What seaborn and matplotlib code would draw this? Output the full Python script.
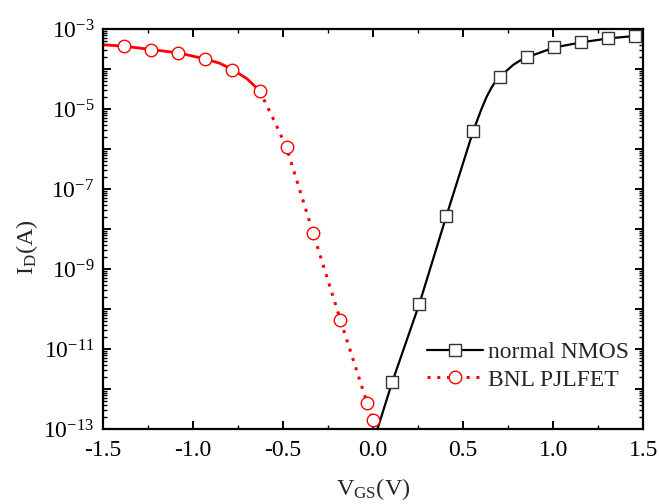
import numpy as np
import pandas as pd
import matplotlib
matplotlib.use("Agg")
import matplotlib.pyplot as plt
import seaborn as sns
from matplotlib.lines import Line2D
from matplotlib.ticker import LogLocator, FuncFormatter, MultipleLocator, NullFormatter

# ---- data ----
nmos_marker_v = [0.107, 0.257, 0.407, 0.557, 0.707, 0.857, 1.007, 1.157, 1.307, 1.457]
nmos_marker_i = [1.5e-12, 1.33e-10, 2.1e-8, 2.9e-6, 6.4e-5, 2.0e-4, 3.5e-4, 4.7e-4, 5.9e-4, 6.8e-4]
nmos_line_v = [0.025, 0.107, 0.257, 0.407, 0.557, 0.60, 0.63, 0.66, 0.68, 0.707, 0.74, 0.78, 0.82, 0.857,
               1.007, 1.157, 1.307, 1.457, 1.5]
nmos_line_i = [1.0e-13, 1.5e-12, 1.33e-10, 2.1e-8, 2.9e-6, 9.5e-6, 2.0e-5, 3.6e-5, 4.9e-5, 6.4e-5, 9.0e-5,
               1.3e-4, 1.68e-4, 2.0e-4, 3.5e-4, 4.7e-4, 5.9e-4, 6.8e-4, 7.1e-4]

jfet_marker_v = [-1.38, -1.23, -1.08, -0.93, -0.78, -0.63, -0.48, -0.333, -0.181, -0.033, 0.0]
jfet_marker_i = [3.76e-4, 3.1e-4, 2.56e-4, 1.8e-4, 9.8e-5, 2.9e-5, 1.1e-6, 8.1e-9, 5.3e-11, 4.5e-13, 1.7e-13]
jfet_line_v = [-1.5, -1.38, -1.23, -1.08, -0.93, -0.85, -0.78, -0.70, -0.63, -0.55, -0.48, -0.333, -0.181, -0.033, 0.0]
jfet_line_i = [4.1e-4, 3.76e-4, 3.1e-4, 2.56e-4, 1.8e-4, 1.4e-4, 9.8e-5, 5.8e-5, 2.9e-5, 5.3e-6, 1.1e-6, 8.1e-9,
               5.3e-11, 4.5e-13, 1.7e-13]
jfet_solid_until = -0.63

labels = ["normal NMOS", "BNL PJLFET"]
x_ticks = [-1.5, -1.0, -0.5, 0.0, 0.5, 1.0, 1.5]

sns.set_style("ticks")
plt.rcParams["font.family"] = ["Liberation Serif", "DejaVu Serif"]
plt.rcParams["mathtext.fontset"] = "custom"
plt.rcParams["mathtext.rm"] = "Liberation Serif"
plt.rcParams["mathtext.it"] = "Liberation Serif:italic"

fig = plt.figure(figsize=(6.59, 5.04), dpi=100)
ax = fig.add_axes([0.156, 0.149, 0.820, 0.793])

nm_line = pd.DataFrame({"V": nmos_line_v, "I": nmos_line_i})
nm_mark = pd.DataFrame({"V": nmos_marker_v, "I": nmos_marker_i})
jf_line = pd.DataFrame({"V": jfet_line_v, "I": jfet_line_i})
jf_mark = pd.DataFrame({"V": jfet_marker_v, "I": jfet_marker_i})

sns.lineplot(data=nm_line, x="V", y="I", ax=ax, color="black", lw=1.6, sort=False, zorder=2)
jf_solid = jf_line[jf_line["V"] <= jfet_solid_until]
jf_dot = jf_line[jf_line["V"] >= jfet_solid_until]
sns.lineplot(data=jf_solid, x="V", y="I", ax=ax, color="red", lw=2.0, sort=False, zorder=2)
sns.lineplot(data=jf_dot, x="V", y="I", ax=ax, color="red", lw=2.2, ls=(0, (1, 2.2)), sort=False, zorder=2)

ax.plot(nm_mark["V"], nm_mark["I"], ls="none", marker="s", ms=8.5, mfc="white", mec="#333333", mew=1.0, zorder=3)
ax.plot(jf_mark["V"], jf_mark["I"], ls="none", marker="o", ms=9, mfc="white", mec="red", mew=1.0, zorder=3)

ax.set_yscale("log")
ax.set_xlim(-1.5, 1.5)
ax.set_ylim(1e-13, 1e-3)

ax.xaxis.set_minor_locator(MultipleLocator(0.25))
ax.set_xticks(x_ticks)
ax.set_xticklabels([f"{v:.1f}" for v in x_ticks])

ax.yaxis.set_major_locator(LogLocator(base=10, numticks=20))
ax.yaxis.set_minor_locator(LogLocator(base=10, subs=np.arange(2, 10), numticks=100))
ax.yaxis.set_minor_formatter(NullFormatter())

def yfmt(val, pos):
    e = int(round(np.log10(val)))
    if e % 2 == 0:
        return ""
    return r"$\mathregular{10^{%d}}$" % e

ax.yaxis.set_major_formatter(FuncFormatter(yfmt))

for s in ax.spines.values():
    s.set_linewidth(1.6)
    s.set_color("black")
    s.set_visible(True)

ax.tick_params(which="both", direction="in", top=True, right=True, colors="black", labelsize=17)
ax.tick_params(which="major", length=6, width=1.4)
ax.tick_params(which="minor", length=3, width=1.0)
ax.tick_params(axis="x", pad=8)
ax.tick_params(axis="y", pad=6)

ax.set_xlabel(r"V$_\mathregular{GS}$(V)", fontsize=17.5, labelpad=11)
ax.set_ylabel(r"I$_\mathregular{D}$(A)", fontsize=17.5)
ax.yaxis.set_label_coords(-0.117, 0.455)

handles = [
    Line2D([], [], color="black", lw=1.6, marker="s", ms=8.5, mfc="white", mec="#333333", mew=1.0),
    Line2D([], [], color="red", lw=2.2, ls=(0, (1, 2.2)), marker="o", ms=9, mfc="white", mec="red", mew=1.0),
]
ax.legend(handles, labels, loc="lower right", bbox_to_anchor=(1.0, 0.06), frameon=False,
          fontsize=17, handlelength=2.4, handletextpad=0.2, labelspacing=0.25, borderaxespad=0.2)

fig.savefig("out.png", dpi=100)
